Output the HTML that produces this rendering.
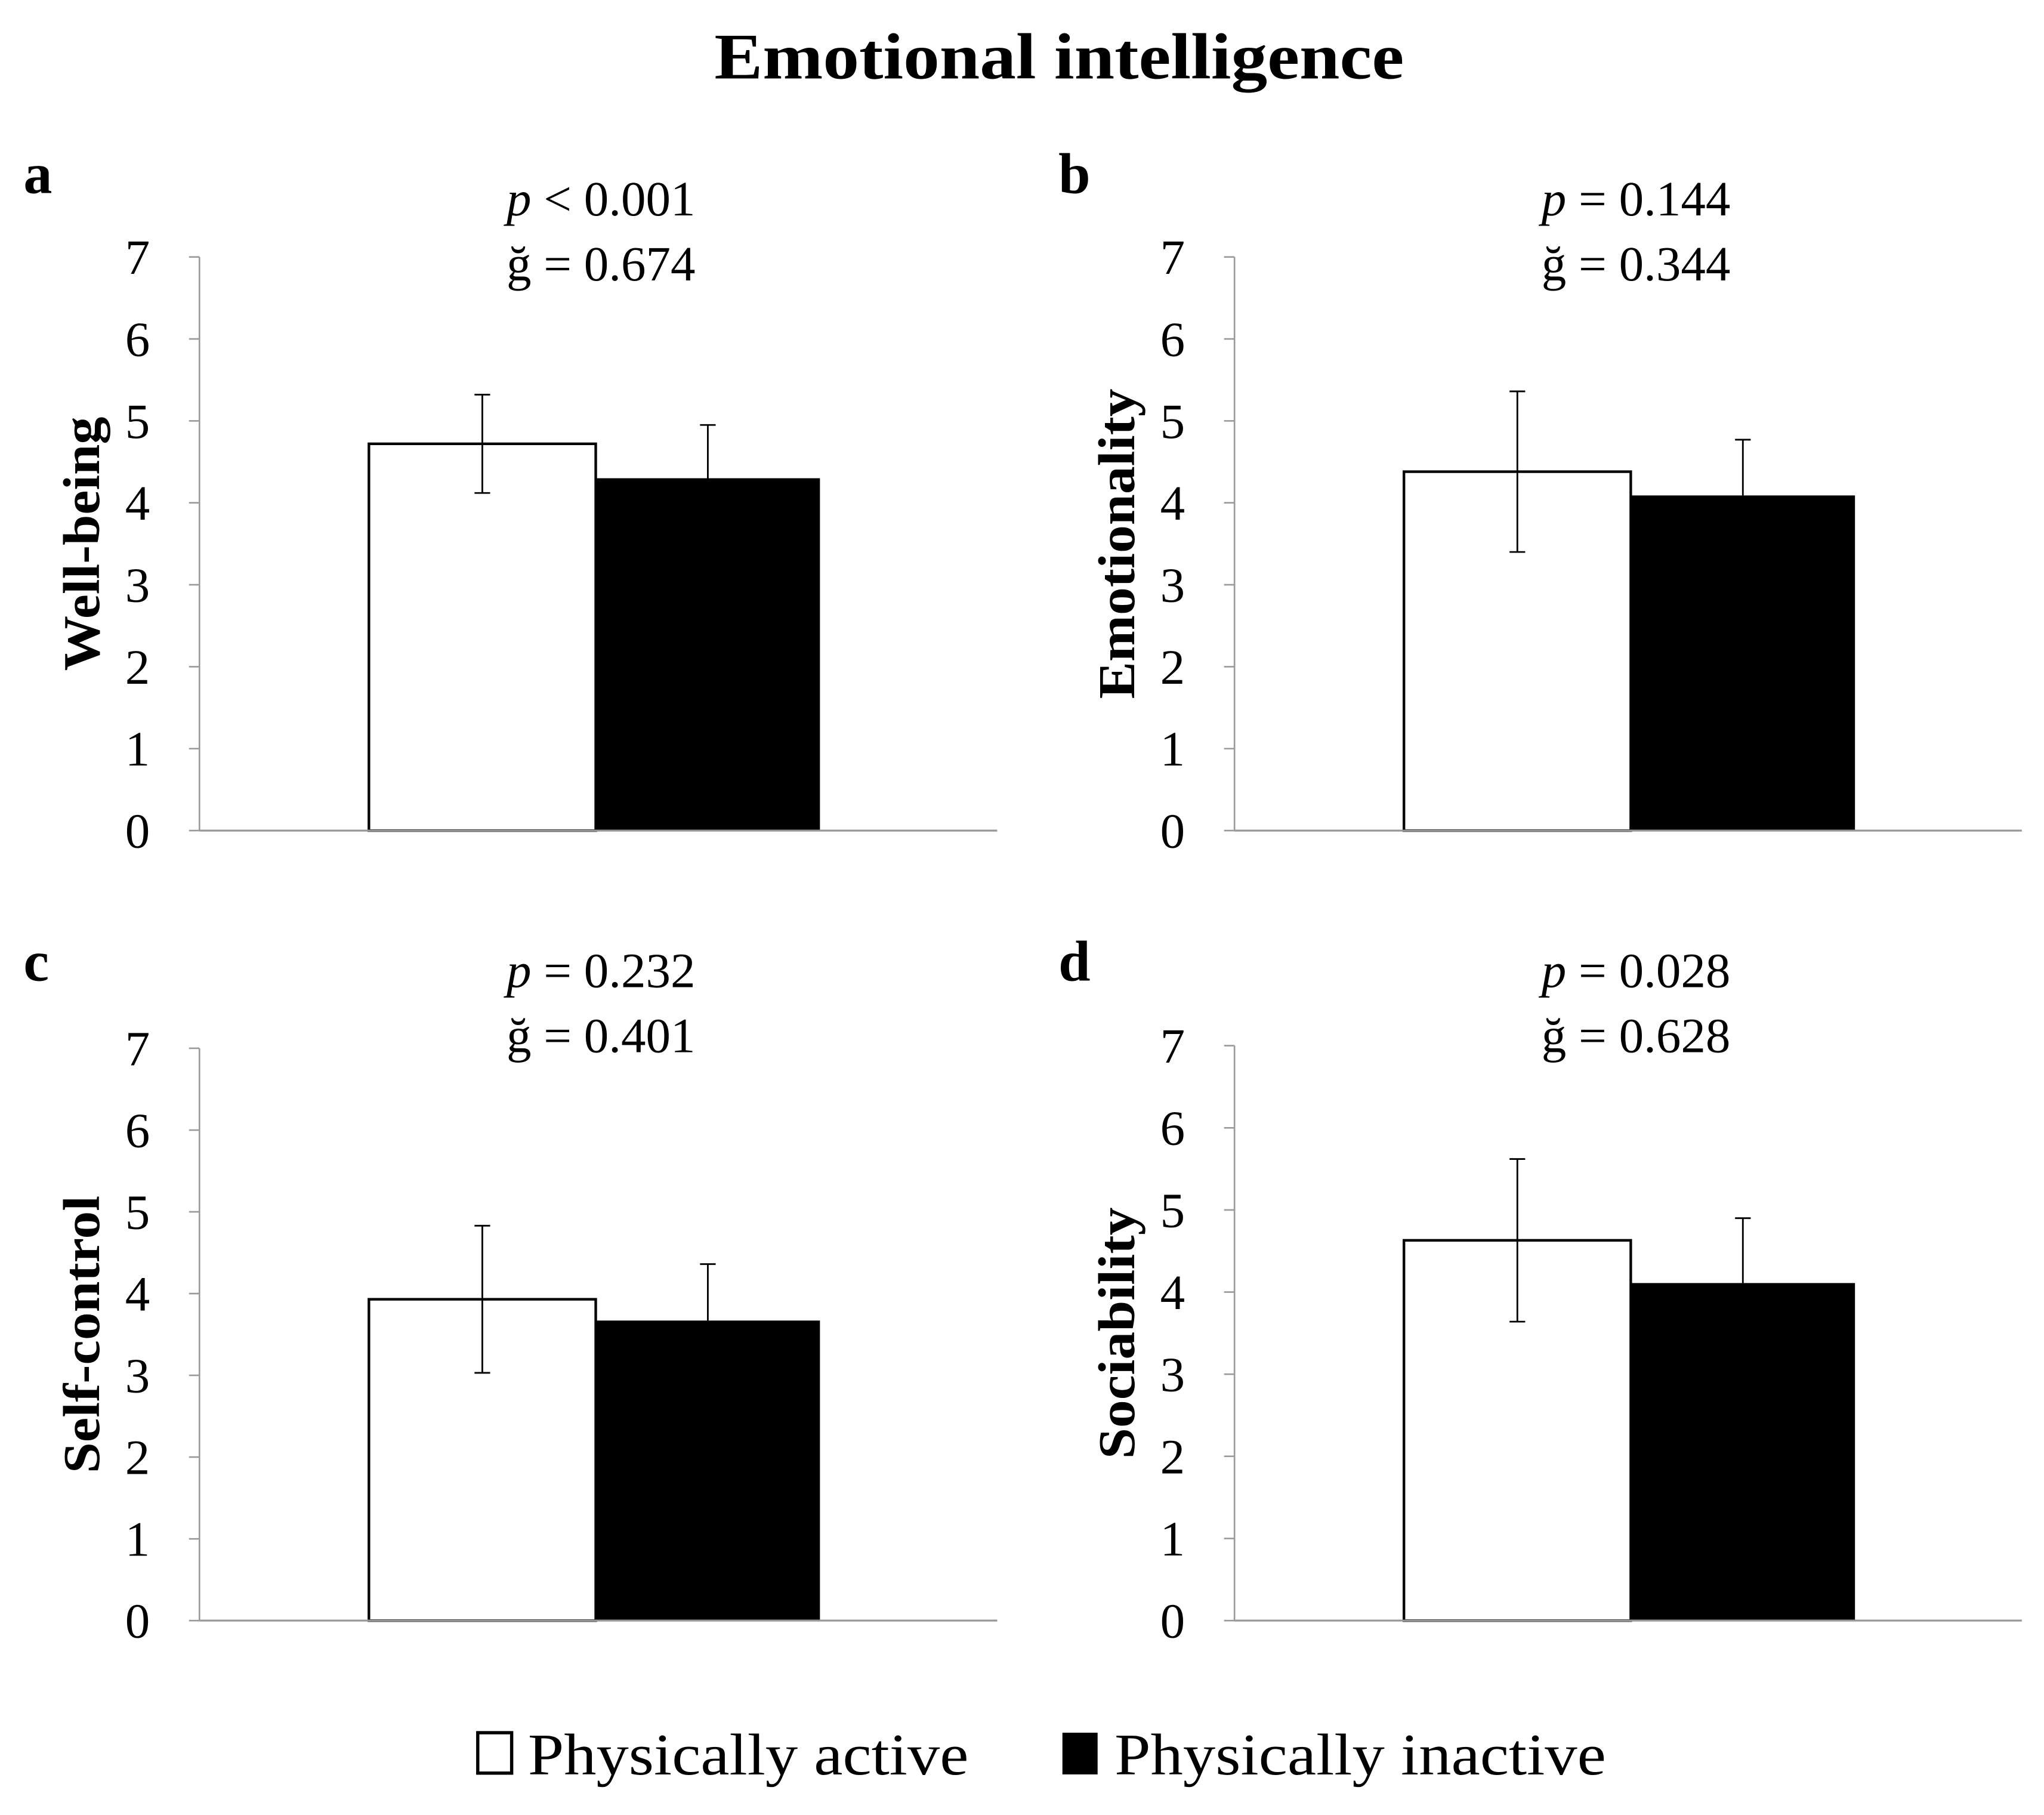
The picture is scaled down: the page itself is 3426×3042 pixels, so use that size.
<!DOCTYPE html>
<html><head><meta charset="utf-8"><style>
html,body{margin:0;padding:0;background:#fff;}
svg{display:block;}
text{font-family:"Liberation Serif",serif;fill:#000;}
</style></head><body>
<svg id="chart" width="3426" height="3042" viewBox="0 0 1568 1392" xmlns="http://www.w3.org/2000/svg">
<text x="548" y="60" font-size="50" font-weight="bold" textLength="529" lengthAdjust="spacingAndGlyphs">Emotional intelligence</text>
<g id="panels"></g>
<g>
<rect x="366.5" y="1329" width="26" height="31" fill="#fff" stroke="#000" stroke-width="2.5"/>
<text x="405" y="1361" font-size="45" textLength="338" lengthAdjust="spacingAndGlyphs">Physically active</text>
<rect x="815" y="1329" width="27" height="32" fill="#000"/>
<text x="855" y="1361" font-size="45" textLength="377" lengthAdjust="spacingAndGlyphs">Physically inactive</text>
</g>
</svg>
<script>
const panelIds = ['a','b','c','d'];
const yLabels = ['Well-being','Emotionality','Self-control','Sociability'];
const pTexts = ['< 0.001','= 0.144','= 0.232','= 0.028'];
const gTexts = ['0.674','0.344','0.401','0.628'];
const activeMeans = [4.72, 4.38, 3.93, 4.63];
const activeErr = [0.60, 0.98, 0.90, 0.99];
const inactiveMeans = [4.30, 4.09, 3.67, 4.11];
const inactiveErr = [0.65, 0.68, 0.69, 0.79];
const yTicks = [0,1,2,3,4,5,6,7];
const yLabelLens = [195, 238, 213, 193];

const NS='http://www.w3.org/2000/svg';
const root=document.getElementById('panels');
function mk(tag,attrs,parent){const e=document.createElementNS(NS,tag);for(const k in attrs)e.setAttribute(k,attrs[k]);parent.appendChild(e);return e;}
const layout=[{ox:0,y0:637,y7:197,xr:765},{ox:794,y0:637,y7:197,xr:1551},{ox:0,y0:1243,y7:804,xr:765},{ox:794,y0:1243,y7:802,xr:1551}];
panelIds.forEach((id,i)=>{
  const L=layout[i], ox=L.ox;
  const g=mk('g',{},root);
  
  
  const yS=v=>L.y0-(L.y0-L.y7)*v/7;
  const ax=153+ox, xr=L.xr;
  const lt=mk('text',{x:18+ox,y:i<2?148:752,'font-size':44,'font-weight':'bold'},g);lt.textContent=id;
  
  
  const cx=461+ox, ty=i<2?165:757;
  const pt=mk('text',{x:cx,y:ty,'text-anchor':'middle','font-size':38},g);
  
  
  const ts=mk('tspan',{'font-style':'italic'},pt);ts.textContent='p';
  const ts2=mk('tspan',{},pt);ts2.textContent=' '+pTexts[i];
  const gt=mk('text',{x:cx,y:ty+50,'text-anchor':'middle','font-size':38},g);gt.textContent='ğ = '+gTexts[i];
  
  
  mk('line',{x1:ax,y1:yS(7),x2:ax,y2:yS(0),stroke:'#999','stroke-width':1.2},g);
  yTicks.forEach(t=>{
    mk('line',{x1:ax-8,y1:yS(t),x2:ax,y2:yS(t),stroke:'#999','stroke-width':1.2},g);
    const tl=mk('text',{x:ax-38,y:yS(t)+13,'text-anchor':'end','font-size':38},g);tl.textContent=t;
    
    
  });
  const yl=mk('text',{x:0,y:0,'text-anchor':'middle','font-size':40,'font-weight':'bold',textLength:yLabelLens[i],lengthAdjust:'spacingAndGlyphs',transform:`translate(${76+ox},${(yS(0)+yS(7))/2}) rotate(-90)`},g);yl.textContent=yLabels[i];
  
  
  const b1=mk('rect',{x:283+ox,y:yS(activeMeans[i]),width:174,height:yS(0)-yS(activeMeans[i]),fill:'#fff',stroke:'#000','stroke-width':2},g);
  
  
  const b2=mk('rect',{x:457+ox,y:yS(inactiveMeans[i]),width:172,height:yS(0)-yS(inactiveMeans[i]),fill:'#000'},g);
  
  
  mk('line',{x1:ax,y1:yS(0),x2:xr,y2:yS(0),stroke:'#999','stroke-width':1.5},g);
  const ex1=370+ox, ex2=543+ox;
  const e1=mk('g',{stroke:'#000','stroke-width':1.3},g);
  
  
  mk('line',{x1:ex1,y1:yS(activeMeans[i]+activeErr[i]),x2:ex1,y2:yS(activeMeans[i]-activeErr[i])},e1);
  mk('line',{x1:ex1-6,y1:yS(activeMeans[i]+activeErr[i]),x2:ex1+6,y2:yS(activeMeans[i]+activeErr[i])},e1);
  mk('line',{x1:ex1-6,y1:yS(activeMeans[i]-activeErr[i]),x2:ex1+6,y2:yS(activeMeans[i]-activeErr[i])},e1);
  const e2=mk('g',{stroke:'#000','stroke-width':1.3},g);
  
  
  mk('line',{x1:ex2,y1:yS(inactiveMeans[i]+inactiveErr[i]),x2:ex2,y2:yS(inactiveMeans[i])},e2);
  mk('line',{x1:ex2-6,y1:yS(inactiveMeans[i]+inactiveErr[i]),x2:ex2+6,y2:yS(inactiveMeans[i]+inactiveErr[i])},e2);
});
</script>
</body></html>
